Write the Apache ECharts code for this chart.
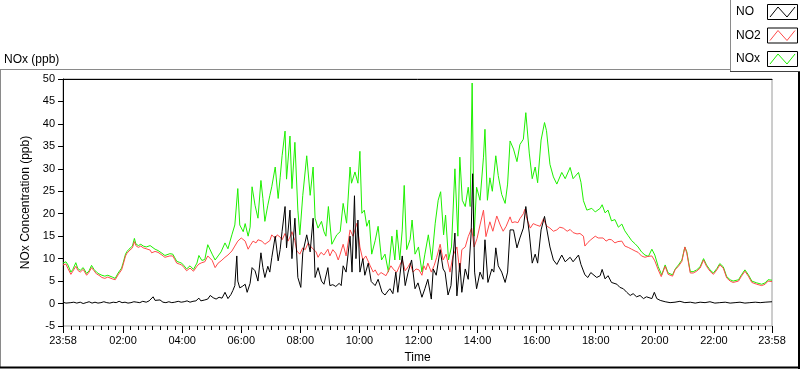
<!DOCTYPE html>
<html><head><meta charset="utf-8">
<script src="https://cdn.jsdelivr.net/npm/echarts@6/dist/echarts.min.js"></script>
<style>html,body{margin:0;padding:0;background:#fff}#c{width:800px;height:369px}</style>
</head><body><div id="c"></div>
<script>
// time in minutes since 00:00 (axis runs 23:58 .. 23:58 next day = -2 .. 1438)
const NO = [[-2,0.3],[4,0.1],[8,0.4],[14,0.2],[20,0.3],[26,0.1],[33,0.3],[39,0.0],[45,0.2],[51,0.4],[57,0.1],[63,0.3],[69,0.1],[75,0.2],[81,0.4],[87,0.2],[93,0.1],[100,0.3],[106,0.2],[112,0.5],[118,0.2],[124,0.3],[130,0.1],[136,0.2],[142,0.4],[148,0.3],[154,0.2],[160,0.5],[167,0.3],[173,0.6],[177,0.9],[181,1.5],[185,0.7],[189,0.4],[195,0.8],[201,0.3],[207,0.2],[213,0.4],[219,0.2],[225,0.3],[232,0.5],[238,0.3],[244,0.4],[250,0.6],[256,0.3],[262,0.5],[268,0.6],[274,1.2],[278,0.6],
[286,0.8],[292,1.0],[297,1.8],[303,1.3],[309,1.0],[315,1.4],[321,1.2],[327,2.5],[333,1.1],[339,2.0],[343,2.9],[347,4.0],[351,10.6],[353,5.0],[357,3.5],[362,3.8],[368,4.3],[372,2.5],[378,4.5],[382,8.0],[388,7.3],[394,5.0],[400,11.3],[404,8.0],[408,5.8],[414,8.3],[418,7.0],[422,10.2],[429,15.0],[435,9.5],[439,12.0],[443,16.1],[449,21.6],[452,12.4],[459,20.8],[463,10.0],[469,19.0],[475,5.8],[481,3.6],[485,11.3],[493,15.3],[500,11.5],[506,19.0],[510,5.8],[516,8.0],[523,5.0],[528,4.3],[536,8.0],
[540,4.0],[546,4.2],[552,3.8],[559,4.5],[563,4.0],[567,8.4],[573,7.0],[581,15.0],[585,7.0],[590,24.0],[593,10.0],[597,18.6],[601,7.0],[607,10.0],[611,6.3],[618,9.0],[624,4.9],[632,4.0],[638,5.4],[646,2.5],[652,1.9],[658,2.8],[662,3.3],[668,2.2],[674,7.0],[678,2.5],[687,10.6],[693,4.0],[699,7.0],[706,9.7],[713,3.3],[719,4.6],[727,1.4],[733,3.3],[739,5.4],[746,1.0],[750,7.7],[756,6.3],[764,12.0],[770,7.7],[774,7.0],[780,1.9],[786,4.0],[794,15.7],
[798,1.7],[804,9.0],[808,2.5],[815,7.7],[821,5.4],[827,15.7],[830,28.9],[834,7.0],[838,3.3],[845,7.0],[851,5.4],[855,14.2],[861,4.7],[869,7.7],[873,7.0],[877,12.4],[882,8.4],[889,7.0],[896,4.7],[901,7.0],[906,16.4],[913,16.4],[920,12.4],[926,14.6],[933,16.8],[938,21.6],[945,15.7],[951,9.0],[957,11.0],[962,9.0],[969,16.4],[976,19.4],[980,19.4],[987,12.6],[994,9.7],[1001,8.7],[1011,10.8],[1018,9.3],[1028,10.3],[1034,9.3],[1045,10.8],[1050,8.7],[1058,6.4],
[1064,5.8],[1070,6.9],[1082,5.8],[1089,6.2],[1093,7.6],[1099,5.5],[1105,6.2],[1112,4.7],[1123,4.3],[1129,3.6],[1136,3.3],[1143,2.5],[1150,1.8],[1156,2.2],[1163,1.5],[1170,1.8],[1177,1.1],[1183,1.5],[1194,1.1],[1199,2.5],[1204,1.1],[1211,0.7],[1221,0.4],[1231,0.2],[1241,0.3],[1251,0.5],[1261,0.2],[1272,0.3],[1282,0.1],[1292,0.3],[1302,0.2],[1312,0.4],[1322,0.1],[1332,0.2],[1343,0.3],[1353,0.1],[1363,0.2],[1373,0.3],[1383,0.1],[1393,0.2],[1404,0.3],[1414,0.2],[1424,0.3],[1438,0.4]];

const NO2 = [[-2,8.6],[4,8.8],[8,7.8],[14,6.5],[18,7.2],[24,8.3],[28,7.4],[33,7.0],[39,7.6],[46,6.3],[51,7.0],[56,8.0],[61,7.3],[66,6.6],[71,6.3],[77,5.8],[83,5.6],[89,5.9],[93,6.0],[98,5.5],[104,5.3],[110,6.4],[117,7.5],[120,8.6],[125,10.6],[128,11.2],[132,11.7],[139,12.4],[143,13.8],[146,12.9],[151,12.5],[156,12.8],[161,12.4],[167,12.2],[171,12.5],[175,11.9],[178,11.3],[185,11.6],[191,11.4],[195,11.0],[199,10.8],[205,10.3],[209,10.5],[215,10.6],[221,10.6],[225,9.8],[229,9.0],[234,8.8],[239,8.6],[244,8.0],[249,7.3],[256,7.9],[263,7.2],[270,8.3],[274,8.8],[280,9.1],
[286,9.3],[292,10.6],[301,9.6],[307,8.0],[313,9.0],[319,9.5],[327,10.3],[333,10.8],[341,11.7],[347,12.8],[353,13.9],[360,14.6],[368,13.9],[374,12.1],[378,12.9],[384,13.9],[390,13.5],[394,14.2],[402,13.9],[408,13.2],[412,12.8],[418,14.0],[422,15.3],[429,14.5],[433,15.3],[439,14.8],[443,14.2],[449,15.6],[455,13.9],[459,14.8],[463,16.0],[469,14.0],[473,11.7],[479,11.0],[485,12.4],[490,12.0],[496,13.5],[502,12.6],[506,12.4],[512,11.5],[516,10.3],[522,11.4],[528,10.8],[536,12.1],
[540,10.6],[546,12.0],[552,11.2],[557,9.7],[561,11.0],[567,13.2],[573,10.6],[581,16.4],[587,15.0],[595,17.9],[601,12.6],[607,9.7],[613,10.6],[622,8.4],[628,7.0],[632,7.5],[638,6.3],[644,6.9],[648,6.7],[654,6.2],[658,6.0],[664,8.4],[670,7.5],[676,7.0],[682,8.5],[687,9.7],[693,7.3],[699,8.2],[703,9.0],[709,7.0],[715,7.7],[721,7.5],[727,6.3],[731,8.4],[735,7.5],[739,9.0],[746,7.0],[752,8.5],[757,10.3],[764,13.2],[770,9.7],[776,11.0],[784,7.0],[790,10.6],[798,12.6],
[804,7.0],[808,12.0],[815,12.6],[821,14.9],[828,16.8],[833,12.6],[839,14.5],[845,17.5],[852,20.8],[857,14.9],[865,18.2],[871,16.1],[879,19.5],[886,17.5],[892,16.1],[898,17.2],[906,19.3],[910,18.0],[916,18.2],[922,18.0],[926,18.9],[933,20.0],[936,21.0],[940,18.9],[947,16.8],[953,17.8],[959,17.5],[967,17.2],[974,18.9],[977,18.0],[981,17.2],[987,16.8],[994,16.1],[1001,16.4],[1007,17.0],[1014,16.8],[1022,16.1],[1028,16.5],[1034,15.8],[1042,15.5],[1048,15.6],[1055,15.0],[1058,12.8],
[1064,13.6],[1070,14.2],[1079,15.0],[1085,14.6],[1089,14.2],[1095,14.6],[1101,13.9],[1107,14.3],[1112,14.2],[1119,13.5],[1125,13.8],[1133,13.9],[1139,12.8],[1146,12.5],[1153,12.1],[1160,11.7],[1166,11.4],[1173,10.6],[1180,10.3],[1186,10.5],[1194,10.6],[1200,9.5],[1207,7.5],[1213,6.0],[1221,8.3],[1227,6.5],[1236,6.1],[1241,7.5],[1248,8.3],[1255,9.4],[1259,11.5],[1261,12.6],[1265,11.2],[1272,6.8],[1278,6.8],[1285,7.2],[1292,7.9],[1299,9.7],[1305,8.3],[1312,7.2],[1319,6.5],[1326,7.5],[1332,8.6],[1339,7.9],[1346,5.7],[1353,5.0],[1359,4.7],[1370,5.0],[1376,6.1],[1383,7.2],[1390,6.1],[1397,4.7],[1407,4.3],[1417,4.0],[1424,4.3],[1430,5.0],[1438,4.9]];

const NOX = [[-2,9.0],[4,9.3],[8,8.6],[14,7.0],[18,7.6],[24,9.1],[28,7.8],[33,7.4],[39,8.0],[46,6.7],[51,7.3],[56,8.5],[61,7.6],[66,7.0],[71,6.6],[77,6.3],[83,6.1],[89,6.3],[93,6.4],[98,5.9],[104,5.6],[110,6.8],[117,7.9],[120,9.0],[125,11.0],[128,11.6],[132,12.1],[139,12.8],[143,14.5],[146,13.3],[151,12.9],[156,13.2],[161,12.8],[167,12.6],[171,12.9],[175,12.9],[178,12.5],[185,12.1],[191,11.8],[195,11.8],[199,11.2],[205,10.7],[209,10.9],[215,11.1],[221,11.0],[225,10.2],[229,9.4],[234,9.2],[239,9.0],[244,8.4],[249,7.7],[256,8.4],[263,7.6],[270,9.0],[274,10.7],[280,9.6],
[286,9.8],[292,13.1],[301,11.0],[307,9.7],[313,10.6],[319,11.5],[327,13.5],[333,12.2],[341,15.3],[347,17.5],[353,25.6],[357,17.5],[364,16.0],[368,17.8],[374,15.0],[378,17.0],[382,26.0],[388,21.9],[394,19.0],[400,27.4],[404,23.4],[408,18.3],[414,21.9],[418,24.0],[422,26.0],[429,30.4],[435,23.4],[439,28.0],[443,32.9],[449,38.4],[452,27.7],[459,37.3],[463,25.6],[469,35.9],[475,20.8],[479,15.3],[485,24.1],[493,32.9],[500,24.1],[506,30.4],[510,19.0],[516,16.8],[523,18.3],[528,16.0],[532,15.0],[537,21.6],
[544,13.2],[554,15.3],[561,16.0],[567,22.3],[574,17.9],[581,30.4],[584,26.8],[591,29.3],[597,26.8],[601,33.9],[605,20.1],[610,20.8],[615,17.2],[620,18.6],[625,11.0],[632,14.0],[638,17.2],[645,9.7],[652,11.0],[659,7.0],[666,15.0],[672,9.7],[676,16.4],[682,9.7],[687,16.4],[691,26.3],[696,12.0],[703,14.3],[707,18.6],[713,11.0],[720,12.6],[727,7.0],[733,11.0],[740,15.3],[747,9.7],[754,17.9],[760,23.0],[765,24.9],[771,15.3],[775,19.7],[781,9.7],[787,12.6],[794,30.0],[800,15.0],
[804,32.6],[809,23.0],[815,21.6],[821,25.9],[825,21.6],[829,49.1],[833,15.0],[838,25.9],[845,23.0],[852,32.6],[855,38.8],[860,23.0],[865,28.0],[870,25.0],[877,32.9],[882,28.5],[889,24.3],[896,22.3],[901,26.6],[906,36.2],[913,34.4],[920,31.6],[926,35.4],[933,36.6],[938,42.5],[945,33.5],[951,27.8],[957,30.4],[962,26.9],[969,36.4],[976,40.3],[980,38.5],[987,31.0],[994,28.2],[1001,26.6],[1011,29.2],[1018,27.8],[1028,30.3],[1034,27.8],[1045,29.2],[1050,27.0],[1055,22.9],[1062,20.8],
[1072,21.2],[1079,20.4],[1089,21.2],[1093,22.0],[1099,20.2],[1105,20.8],[1112,18.4],[1119,18.7],[1126,17.0],[1133,17.7],[1139,16.2],[1146,15.1],[1153,14.0],[1160,13.3],[1166,12.6],[1173,11.5],[1180,10.8],[1187,10.5],[1194,12.1],[1200,10.8],[1207,8.2],[1214,6.4],[1221,8.6],[1227,6.8],[1236,6.4],[1242,7.8],[1248,8.6],[1255,9.7],[1261,12.6],[1265,11.5],[1272,7.1],[1278,7.1],[1285,7.5],[1292,8.2],[1299,10.0],[1305,8.6],[1312,7.5],[1319,6.8],[1326,7.8],[1332,8.9],[1339,8.2],[1346,6.0],[1353,5.3],[1359,5.0],[1370,5.3],[1376,6.4],[1383,7.5],[1390,6.4],[1397,5.0],[1407,4.6],[1417,4.3],[1424,4.6],[1430,5.3],[1438,5.2]];

const majorTicks = [-2,120,240,360,480,600,720,840,960,1080,1200,1320,1438];
const tickLabels = ['23:58','02:00','04:00','06:00','08:00','10:00','12:00','14:00','16:00','18:00','20:00','22:00','23:58'];
const legendNames = ['NO','NO2','NOx'];
const colors = {NO:'#000000', NO2:'#ff4a4a', NOx:'#1ef000'};

const minorTicks = [];
for (let m = 15; m < 1438; m += 15) if (m % 120 !== 0) minorTicks.push(m);

const FONT = 'Liberation Sans';
const chart = echarts.init(document.getElementById('c'), null, {renderer:'canvas'});

const legendGraphics = [];
legendGraphics.push({type:'rect', shape:{x:730,y:0,width:70,height:72}, style:{fill:'#fff'}, z:100});
legendGraphics.push({type:'line', shape:{x1:730.5,y1:0,x2:730.5,y2:72}, style:{stroke:'#8a8a8a',lineWidth:1}, z:101});
legendGraphics.push({type:'line', shape:{x1:730,y1:71.5,x2:800,y2:71.5}, style:{stroke:'#404040',lineWidth:1}, z:101});
const rowY = [4, 27.5, 51];
legendNames.forEach((n, i) => {
  const y = rowY[i];
  legendGraphics.push({type:'text', x:736, y:y+8, style:{text:n, fill:'#000', font:'12px "'+FONT+'"', textVerticalAlign:'middle'}, z:102});
  legendGraphics.push({type:'rect', shape:{x:767.5,y:y+0.5,width:30,height:15}, style:{fill:'#fff', stroke:'#000', lineWidth:1}, z:102});
  legendGraphics.push({type:'polyline', shape:{points:[[770,y+13],[778,y+3],[787,y+13],[795,y+3]]}, style:{stroke:colors[n], lineWidth:1, fill:null}, z:103});
});

const frameGraphics = [
  {type:'line', shape:{x1:0,y1:69.5,x2:730,y2:69.5}, style:{stroke:'#8a8a8a',lineWidth:1}, z:50},
  {type:'line', shape:{x1:0.5,y1:69,x2:0.5,y2:367}, style:{stroke:'#8a8a8a',lineWidth:1}, z:50},
  {type:'line', shape:{x1:0,y1:367.5,x2:800,y2:367.5}, style:{stroke:'#000',lineWidth:2}, z:50},
  {type:'line', shape:{x1:799,y1:72,x2:799,y2:369}, style:{stroke:'#000',lineWidth:2}, z:50},
  {type:'text', x:4, y:60, style:{text:'NOx (ppb)', fill:'#000', font:'12px "'+FONT+'"', textVerticalAlign:'middle'}, z:50}
];

const option = {
  animation:false,
  backgroundColor:'#fff',
  textStyle:{fontFamily:FONT},
  grid:{left:63, top:79, width:709, height:250, show:true, borderColor:'#9a9a9a', borderWidth:1, backgroundColor:'#fff'},
  xAxis:[
    {type:'value', min:-2, max:1438, position:'bottom',
     name:'Time', nameLocation:'middle', nameGap:26, nameTextStyle:{color:'#000', fontSize:12, fontFamily:FONT},
     axisLine:{show:false, onZero:false},
     axisTick:{show:true, inside:false, length:7, customValues:majorTicks, lineStyle:{color:'#000', width:1}},
     axisLabel:{show:true, customValues:majorTicks, color:'#000', fontSize:11, fontFamily:FONT, margin:9,
       formatter:(v)=>{ const i = majorTicks.indexOf(v); return i>=0 ? tickLabels[i] : ''; }},
     splitLine:{show:false}},
    {type:'value', min:-2, max:1438, position:'bottom', gridIndex:0,
     axisLine:{show:false, onZero:false},
     axisTick:{show:true, length:4, customValues:minorTicks, lineStyle:{color:'#000', width:1}},
     axisLabel:{show:false}, splitLine:{show:false}},
    {type:'value', min:-2, max:1438, position:'top', gridIndex:0,
     axisLine:{show:true, onZero:false, lineStyle:{color:'#000', width:1}},
     axisTick:{show:false}, axisLabel:{show:false}, splitLine:{show:false}}
  ],
  yAxis:{type:'value', min:-5, max:50, interval:5,
    name:'NOx Concentration (ppb)', nameLocation:'middle', nameGap:27, nameRotate:90,
    nameTextStyle:{color:'#000', fontSize:12, fontFamily:FONT},
    axisLine:{show:true, onZero:false, lineStyle:{color:'#000', width:1}},
    axisTick:{show:true, length:5, lineStyle:{color:'#000'}},
    axisLabel:{color:'#000', fontSize:11, fontFamily:FONT, margin:8},
    splitLine:{show:false}},
  series:[
    {name:'NOx', type:'line', data:NOX, xAxisIndex:0, symbol:'none', showSymbol:false, lineStyle:{width:1, color:colors.NOx}, itemStyle:{color:colors.NOx}, z:2},
    {name:'NO2', type:'line', data:NO2, xAxisIndex:0, symbol:'none', showSymbol:false, lineStyle:{width:1, color:colors.NO2}, itemStyle:{color:colors.NO2}, z:3},
    {name:'NO', type:'line', data:NO, xAxisIndex:0, symbol:'none', showSymbol:false, lineStyle:{width:1, color:colors.NO}, itemStyle:{color:colors.NO}, z:4}
  ],
  graphic:[...frameGraphics, ...legendGraphics]
};
chart.setOption(option);
</script>
</body></html>
